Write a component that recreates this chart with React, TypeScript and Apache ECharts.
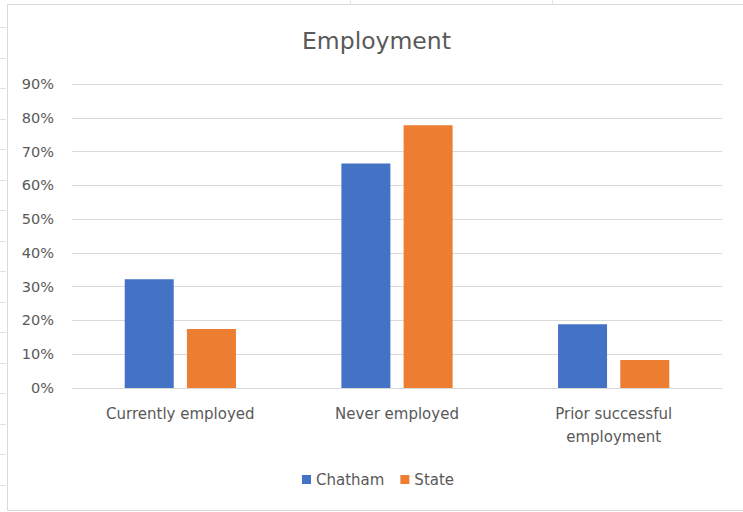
import React, { useEffect, useRef } from "react";
import * as echarts from "echarts";

const categories = ["Currently employed", "Never employed", "Prior successful\nemployment"];
const chatham = [32.2, 66.5, 18.9];
const state = [17.5, 77.8, 8.3];
const yTicks = [0, 10, 20, 30, 40, 50, 60, 70, 80, 90];

const FONT = "'DejaVu Sans', sans-serif";
const GREY = "#595959";

export default function App() {
  const ref = useRef<HTMLDivElement>(null);
  useEffect(() => {
    const chart = echarts.init(ref.current!, null, { renderer: "svg" });
    const sheetTicks: any[] = [];
    for (let y = 27; y < 512; y += 30.5) {
      sheetTicks.push({
        type: "line",
        shape: { x1: 0, y1: Math.round(y) + 0.5, x2: 6, y2: Math.round(y) + 0.5 },
        style: { stroke: "#e3e3e3", lineWidth: 1 },
        silent: true,
      });
    }
    chart.setOption({
      animation: false,
      backgroundColor: "#ffffff",
      textStyle: { fontFamily: FONT },
      graphic: [
        ...sheetTicks,
        { type: "line", shape: { x1: 350.5, y1: 0, x2: 350.5, y2: 5 }, style: { stroke: "#e3e3e3", lineWidth: 1 } },
        { type: "line", shape: { x1: 552.5, y1: 0, x2: 552.5, y2: 5 }, style: { stroke: "#e3e3e3", lineWidth: 1 } },
        {
          type: "rect",
          shape: { x: 7.5, y: 4.5, width: 760, height: 506 },
          style: { fill: "#ffffff", stroke: "#d9d9d9", lineWidth: 1 },
          z: -10,
        },
      ],
      title: {
        text: "Employment",
        left: 302,
        top: 29,
        padding: 0,
        textStyle: { fontFamily: FONT, fontSize: 23.5, fontWeight: "normal", color: GREY },
      },
      legend: {
        data: ["Chatham", "State"],
        left: 302,
        top: 472,
        padding: 0,
        itemWidth: 9,
        itemHeight: 9,
        itemGap: 16,
        icon: "rect",
        textStyle: { fontFamily: FONT, fontSize: 15, color: GREY },
      },
      grid: { left: 72, right: 21, top: 84, bottom: 124, containLabel: false },
      xAxis: {
        type: "category",
        data: categories,
        axisLine: { show: true, lineStyle: { color: "#d9d9d9" } },
        axisTick: { show: false },
        axisLabel: { fontFamily: FONT, fontSize: 15, color: GREY, margin: 14, lineHeight: 23 },
      },
      yAxis: {
        type: "value",
        min: 0,
        max: 90,
        interval: 10,
        axisLine: { show: false },
        axisTick: { show: false },
        splitLine: { lineStyle: { color: "#d9d9d9", width: 1 } },
        axisLabel: {
          fontFamily: FONT,
          fontSize: 14.5,
          color: GREY,
          margin: 18,
          formatter: (v: number) => (yTicks.includes(v) ? v + "%" : ""),
        },
      },
      series: [
        {
          name: "Chatham",
          type: "bar",
          data: chatham,
          barWidth: 49,
          barGap: "27%",
          itemStyle: { color: "#4472C4" },
        },
        {
          name: "State",
          type: "bar",
          data: state,
          barWidth: 49,
          barGap: "27%",
          itemStyle: { color: "#ED7D31" },
        },
      ],
    });
    return () => chart.dispose();
  }, []);
  return (
    <div
      ref={ref}
      style={{ position: "fixed", left: 0, top: 0, width: 743, height: 512 }}
    />
  );
}
